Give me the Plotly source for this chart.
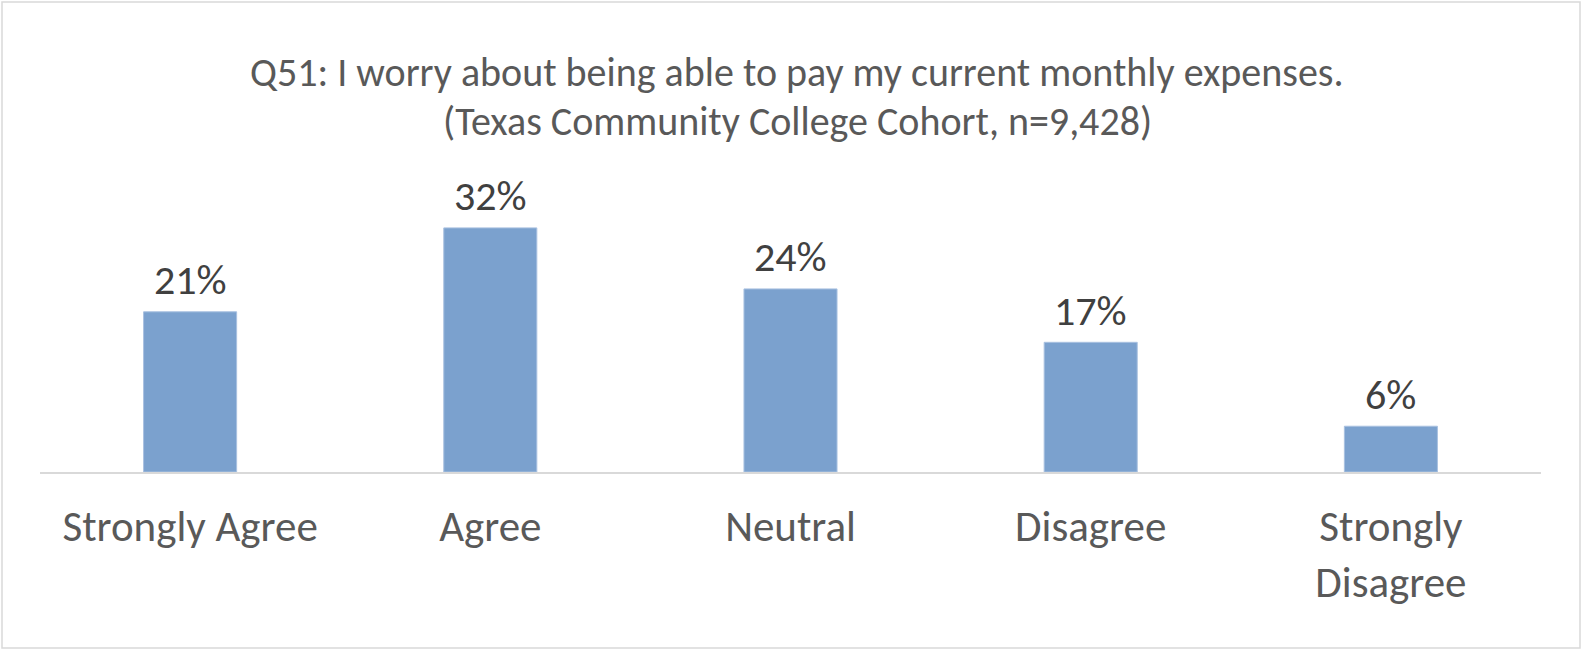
import plotly.graph_objects as go

# Survey responses (share of respondents)
categories = ["Strongly Agree", "Agree", "Neutral", "Disagree", "Strongly<br>Disagree"]
shares = [21, 32, 24, 17, 6]
labels = [f"{v}%" for v in shares]

title_line1 = "Q51: I worry about being able to pay my current monthly expenses."
title_line2 = "(Texas Community College Cohort, n=9,428)"

W, H = 1582, 650
L, R, T, B = 40, 41, 205, 178
plot_w = W - L - R
plot_h = H - T - B

FONT = "Carlito, Lato, sans-serif"

fig = go.Figure(
    go.Bar(
        x=categories,
        y=shares,
        width=0.31,
        marker=dict(color="#7BA1CE", line=dict(color="#A9C1E0", width=1)),
        cliponaxis=False,
    )
)

# value labels above each bar
for cat, val, lab in zip(categories, shares, labels):
    fig.add_annotation(
        x=cat, y=val, text=lab, showarrow=False,
        xanchor="center", yanchor="middle", yshift=32,
        font=dict(family=FONT, size=42, color="#404040"),
    )


def px_to_paper_x(px):
    return (px - L) / plot_w


def px_to_paper_y(py):
    return (H - B - py) / plot_h


# outer chart border
fig.add_shape(
    type="rect", xref="paper", yref="paper",
    x0=px_to_paper_x(2), x1=px_to_paper_x(1580),
    y0=px_to_paper_y(648), y1=px_to_paper_y(2),
    line=dict(color="#D9D9D9", width=1.5), fillcolor="rgba(0,0,0,0)", layer="below",
)

for text, py in [(title_line1, 73), (title_line2, 122)]:
    fig.add_annotation(
        text=text, xref="paper", yref="paper",
        x=px_to_paper_x(W / 2 + 6), y=px_to_paper_y(py),
        xanchor="center", yanchor="middle", showarrow=False,
        font=dict(family=FONT, size=40, color="#595959"),
    )

fig.update_layout(
    width=W, height=H,
    margin=dict(l=L, r=R, t=T, b=B),
    paper_bgcolor="white", plot_bgcolor="white",
    showlegend=False,
    bargap=0.69,
)
fig.update_xaxes(
    showline=True, linecolor="#D9D9D9", linewidth=1.5,
    ticks="", showgrid=False,
    tickfont=dict(family=FONT, size=43, color="#595959"),
    ticklabelstandoff=16,
)
fig.update_yaxes(range=[0, 35], visible=False, showgrid=False)

fig.write_html("out.html")
